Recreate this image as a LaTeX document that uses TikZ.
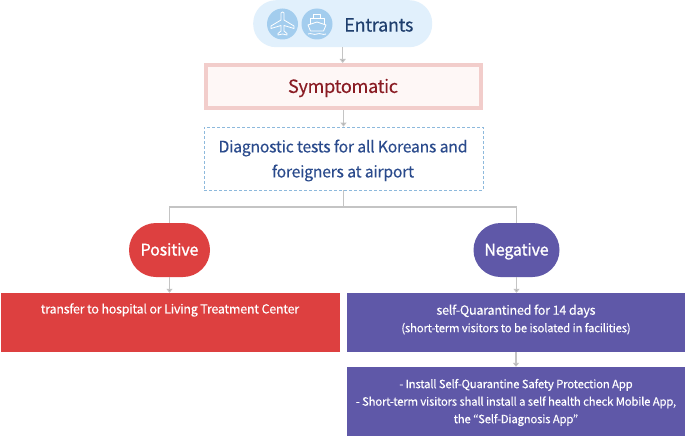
\documentclass[tikz,border=0pt]{standalone}
\usepackage{fontspec}
\setmainfont[LetterSpace=-2,FakeBold=0.12]{Noto Sans CJK KR}
\newfontfamily\headfont[LetterSpace=-1,FakeBold=1.2]{Noto Sans CJK KR}
\usetikzlibrary{arrows.meta}
\definecolor{pillblue}{HTML}{E1F0FC}
\definecolor{iconblue}{HTML}{A3CDEE}
\definecolor{navy}{HTML}{1F3F6E}
\definecolor{pinkline}{HTML}{F2CDCB}
\definecolor{pinkfill}{HTML}{FEF7F6}
\definecolor{darkred}{HTML}{8A1C24}
\definecolor{dashblue}{HTML}{8DB9DC}
\definecolor{bodyblue}{HTML}{2A4A8C}
\definecolor{redfill}{HTML}{DD4040}
\definecolor{purplefill}{HTML}{5F58A8}
\definecolor{linegrey}{HTML}{C4C4C4}
\tikzset{
 x=1pt,y=-1pt,
 conn/.style={draw=linegrey,line width=1.2pt,-{Triangle[length=4pt,width=6pt,fill=linegrey!85!black]}},
 plain/.style={draw=linegrey,line width=1.2pt},
 pillnode/.style={rounded corners=23pt,draw=none,inner sep=0pt},
 solidbox/.style={draw=none,inner sep=0pt,text=white,align=center},
 iconline/.style={draw=white,line width=.8pt,line join=round}
}
\begin{document}
\begin{tikzpicture}
\useasboundingbox (0,0) rectangle (685,436);
\fill[white] (0,0) rectangle (685,436);
% entrants
\node[pillnode,fill=pillblue,minimum width=179pt,minimum height=47pt,anchor=north west] (ent) at (253,0) {};
\node[anchor=west,inner sep=0pt,text=navy,font=\fontsize{18.2}{20}\selectfont] (enttext) at (344,25) {Entrants};
\node[circle,fill=iconblue,minimum size=31pt,inner sep=0pt] (plane) at (282.5,24) {};
\node[circle,fill=iconblue,minimum size=31pt,inner sep=0pt] (ship) at (317,24) {};
% plane icon
\draw[iconline] (281,13) .. controls (281,11.5) and (284,11.5) .. (284,13) -- (284,20) -- (294,26) -- (294,28.5) -- (284,25.5) -- (284,31) -- (287,33.5) -- (287,35) -- (282.5,34) -- (278,35) -- (278,33.5) -- (281,31) -- (281,25.5) -- (271,28.5) -- (271,26) -- (281,20) -- cycle;
% ship icon
\draw[iconline] (313.5,14) -- (320.5,14) -- (320.5,18) -- (313.5,18) -- cycle;
\draw[iconline] (310,24) -- (310,18) -- (324,18) -- (324,24);
\draw[iconline] (308,25) -- (317,22) -- (326,25) -- (323.5,31) -- (310.5,31) -- cycle;
\draw[iconline] (308,34) .. controls (311,32.5) and (314,35.5) .. (317,34) .. controls (320,32.5) and (323,35.5) .. (326,34);
% symptomatic
\node[draw=pinkline,line width=4pt,fill=pinkfill,minimum width=275pt,minimum height=43pt,inner sep=0pt] (sym) at (343.5,86.5) {};
\node[inner sep=0pt,text=darkred,font=\fontsize{18.2}{20}\selectfont] (symtext) at (343,88) {Symptomatic};
% diagnostic
\node[draw=dashblue,line width=.8pt,dash pattern=on 3pt off 2pt,minimum width=279pt,minimum height=63pt,inner sep=0pt] (diag) at (343.5,158.5) {};
\node[inner sep=0pt,align=center,text=bodyblue,font=\fontsize{15.9}{25}\selectfont] (diagtext) at (343,160.5) {Diagnostic tests for all Koreans and\\foreigners at airport};
% pills
\node[pillnode,rounded corners=27pt,fill=redfill,minimum width=81pt,minimum height=54pt,text=white,text height=12.5pt,text depth=1.5pt,font=\fontsize{16}{20}\selectfont\headfont] (pos) at (169.5,250) {Positive};
\node[pillnode,rounded corners=27pt,fill=purplefill,minimum width=86pt,minimum height=54pt,text=white,text height=12.5pt,text depth=1.5pt,font=\fontsize{16}{20}\selectfont\headfont] (neg) at (516.5,250) {Negative};
% boxes
\node[solidbox,fill=redfill,minimum width=339pt,minimum height=59pt] (hosp) at (170.5,322.5) {};
\node[text=white,font=\fontsize{12.5}{15}\selectfont,inner sep=0pt] (hosptext) at (170,310) {transfer to hospital or Living Treatment Center};
\node[solidbox,fill=purplefill,minimum width=338pt,minimum height=59pt] (quar) at (516,322.5) {};
\node[text=white,align=center,inner sep=0pt,font=\fontsize{12.6}{17.5}\selectfont] (quartext) at (516,319.5) {self-Quarantined for 14 days\\{\fontsize{11.4}{17.5}\selectfont (short-term visitors to be isolated in facilities)}};
\node[solidbox,fill=purplefill,minimum width=338pt,minimum height=69pt] (app) at (516,401.5) {};
\node[text=white,align=center,inner sep=0pt,font=\fontsize{11.4}{17.5}\selectfont] (apptext) at (516,402.5) {- Install Self-Quarantine Safety Protection App\\- Short-term visitors shall install a self health check Mobile App,\\the “Self-Diagnosis App”};
% connectors
\draw[conn] (ent.south) -- (ent.south |- sym.north);
\draw[conn] (sym.south) -- (diag.north);
\coordinate (branch) at (343.5,207);
\draw[plain] (diag.south) -- (branch);
\draw[plain] (pos.north) |- (branch) -| (neg.north);
\draw[conn] (pos.south) -- (pos.south |- hosp.north);
\draw[conn] (neg.south) -- (neg.south |- quar.north);
\draw[conn] (quar.south) -- (app.north);
\end{tikzpicture}
\end{document}
